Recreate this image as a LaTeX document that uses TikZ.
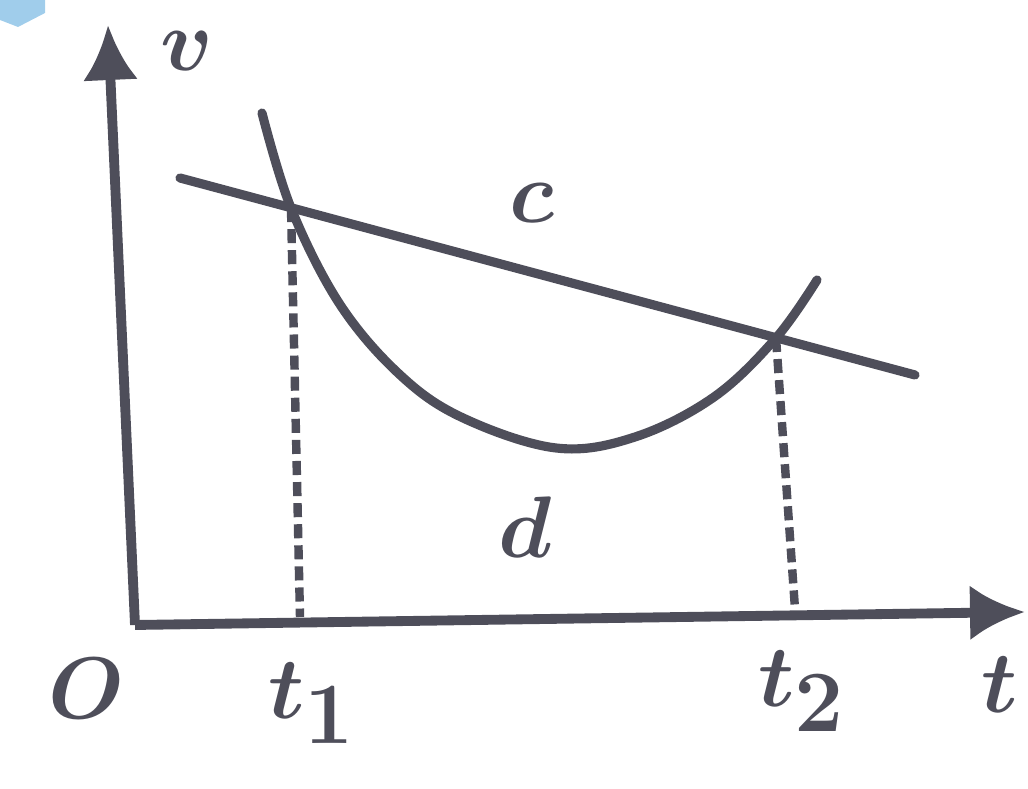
\documentclass[tikz,border=0pt]{standalone}
\usepackage{tikz}
\usetikzlibrary{arrows.meta}
\definecolor{inkGray} {RGB}{78, 78, 90}
\definecolor{blobBlue}{RGB}{160,205,235}

\begin{document}
\begin{tikzpicture}[
          axis/.style={draw=inkGray,line width=2.8pt,
                       -{Latex[length=5.5mm,width=5.5mm]}},
          graph/.style={draw=inkGray,line width=2.6pt,line cap=round},
          drop/.style={draw=inkGray,line width=2.4pt,
                       dash pattern=on 4pt off 2pt},
          lab/.style={text=inkGray,inner sep=0pt,
                      font=\fontsize{38}{40}\selectfont\boldmath},
        ]
        \useasboundingbox (0,0) rectangle (10.28,7.89);
        \fill[blobBlue] (0,7.89) -- (0.45,7.89) -- (0.45,7.76)
                        -- (0.18,7.62) -- (0,7.69) -- cycle;
        % axes
        \coordinate (O)    at (1.35,1.64);
        \coordinate (vtip) at (1.08,7.64);
        \coordinate (ttip) at (10.25,1.77);
        \draw[axis] (O) -- (vtip);
        \draw[axis] (O) -- (ttip);
        % line c and curve d
        \coordinate (c0) at (1.80,6.11);
        \coordinate (c1) at (9.15,4.14);
        \coordinate (x1) at (2.91,5.81);
        \coordinate (x2) at (7.76,4.51);
        \draw[graph] (c0) -- (c1);
        \draw[graph] plot[smooth,tension=0.6] coordinates
              {(2.62,6.76) (x1) (3.39,4.86) (3.98,4.16) (4.61,3.72)
               (5.56,3.41) (6.35,3.52) (7.14,3.92) (x2) (8.17,5.09)};
        % drop lines
        \coordinate (f1) at (3.00,1.72);
        \coordinate (f2) at (7.95,1.80);
        \foreach \a/\b in {x1/f1,x2/f2}{
          \draw[drop] (\a) -- (\b);
        }
        % labels
        \node[lab] (vlab)  at (1.87,7.38) {$v$};
        \node[lab] (Olab)  at (0.86,1.00) {$O$};
        \node[lab] (t1lab) at (3.12,0.86) {$t_1$};
        \node[lab] (t2lab) at (8.02,0.98) {$t_2$};
        \node[lab] (tlab)  at (10.00,1.04) {$t$};
        \node[lab] (clab)  at (5.32,5.86) {$c$};
        \node[lab] (dlab)  at (5.25,2.62) {$d$};
      \end{tikzpicture}
\end{document}
